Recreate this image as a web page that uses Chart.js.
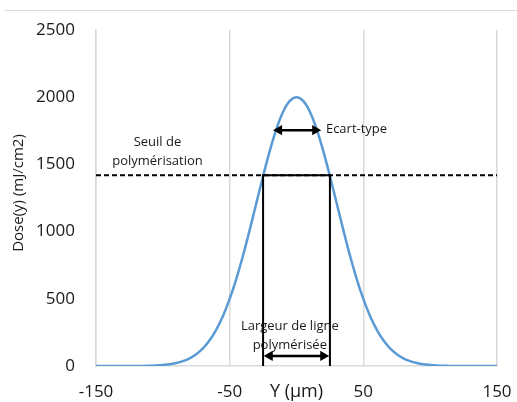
<!DOCTYPE html>
<html>
<head>
<meta charset="utf-8">
<script src="https://cdn.jsdelivr.net/npm/chart.js@4/dist/chart.umd.min.js"></script>
<style>
  html, body { margin: 0; padding: 0; background: #fff; }
  .wrap { position: relative; width: 517px; height: 402px; }
  .topline { position: absolute; left: 5px; right: 0; top: 10px; border-top: 1px solid #d9d9d9; }
</style>
</head>
<body>
<div class="wrap">
  <div class="topline"></div>
  <canvas id="chart" width="517" height="402"></canvas>
</div>
<script>
// ─── Data ──────────────────────────────────────────────────────────────────
const POSITIONS = [-150,-145,-140,-135,-130,-125,-120,-115,-110,-105,-100,-95,-90,-85,-80,-75,-70,-65,-60,-55,-50,-45,-40,-35,-30,-25,-20,-15,-10,-5,
  0,5,10,15,20,25,30,35,40,45,50,55,60,65,70,75,80,85,90,95,100,105,110,115,120,125,130,135,140,145,150];
const DOSE = [0,0,0,0,0,0,0,0,2,4,8,13,22,36,57,88,131,191,271,372,499,649,822,1013,1213,1413,1601,1765,1892,1972,
  2000,1972,1892,1765,1601,1413,1213,1013,822,649,499,372,271,191,131,88,57,36,22,13,8,4,2,0,0,0,0,0,0,0,0];

const THRESHOLD = 1420;
const LINE_EDGES = [-25, 25];
const SIGMA_ARROW = { y: 1755, from: -13, to: 14 };
const WIDTH_ARROW = { y: 75, from: -20, to: 20 };
const X_TICKS = [-150, -50, 50, 150];
const Y_TICKS = [0, 500, 1000, 1500, 2000, 2500];

const BLUE = '#5b9bd5';
const BLACK = '#000000';
const GRID = '#d9d9d9';
const TEXT = '#1a1a1a';
const FONT = "'Open Sans', sans-serif";

// ─── Text labels plugin ────────────────────────────────────────────────────
const LABELS = [
  { x: -104, y: 1665, lines: ['Seuil de', 'polymérisation'], align: 'center' },
  { x: 22, y: 1760, lines: ['Ecart-type'], align: 'left' },
  { x: -5, y: 293, lines: ['Largeur de ligne', 'polymérisée'], align: 'center' },
];

const labelPlugin = {
  id: 'labels',
  afterDatasetsDraw(chart) {
    const { ctx, scales: { x, y } } = chart;
    ctx.save();
    ctx.fillStyle = TEXT;
    ctx.font = `13px ${FONT}`;
    ctx.textBaseline = 'middle';
    LABELS.forEach(l => {
      ctx.textAlign = l.align;
      l.lines.forEach((t, i) => ctx.fillText(t, x.getPixelForValue(l.x), y.getPixelForValue(l.y) + i * 19));
    });
    // y axis title
    ctx.translate(19, 193);
    ctx.rotate(-Math.PI / 2);
    ctx.textAlign = 'center';
    ctx.font = `15px ${FONT}`;
    ctx.fillText('Dose(y) (mJ/cm2)', 0, 0);
    ctx.restore();
  }
};

// ─── Chart ─────────────────────────────────────────────────────────────────
const pts = POSITIONS.map((p, i) => ({ x: p, y: DOSE[i] }));
const arrow = a => [{ x: a.from, y: a.y }, { x: a.to, y: a.y }];

new Chart(document.getElementById('chart'), {
  type: 'scatter',
  data: {
    datasets: [
      { data: pts, showLine: true, borderColor: BLUE, borderWidth: 2.5, pointRadius: 0, tension: 0.3, order: 2 },
      { data: [{ x: -150, y: THRESHOLD }, { x: 150, y: THRESHOLD }], showLine: true, borderColor: BLACK, borderWidth: 2, borderDash: [5, 3], pointRadius: 0, order: 1 },
      { data: [{ x: LINE_EDGES[0], y: 0 }, { x: LINE_EDGES[0], y: THRESHOLD }, { x: LINE_EDGES[1], y: THRESHOLD }, { x: LINE_EDGES[1], y: 0 }],
        showLine: true, borderColor: BLACK, borderWidth: 2, pointRadius: 0, order: 1 },
      { data: arrow(SIGMA_ARROW), showLine: true, borderColor: BLACK, borderWidth: 2.5, backgroundColor: BLACK,
        pointStyle: 'triangle', pointRadius: 3.5, rotation: [-90, 90], order: 0 },
      { data: arrow(WIDTH_ARROW), showLine: true, borderColor: BLACK, borderWidth: 2.5, backgroundColor: BLACK,
        pointStyle: 'triangle', pointRadius: 3.5, rotation: [-90, 90], order: 0 },
    ]
  },
  options: {
    responsive: false, animation: false,
    layout: { padding: { top: 30, right: 20, left: 0, bottom: 0 } },
    plugins: { legend: { display: false }, tooltip: { enabled: false } },
    scales: {
      x: {
        type: 'linear', min: -150, max: 150,
        afterBuildTicks: s => { s.ticks = X_TICKS.map(v => ({ value: v })); },
        afterFit: s => { s.height = 36; s.paddingLeft = 0; s.paddingRight = 0; },
        grid: { color: GRID, lineWidth: 1.5, drawTicks: false },
        border: { color: GRID, width: 1.5 },
        ticks: { color: TEXT, font: { family: FONT, size: 17 }, padding: 16 },
        title: { display: true, text: 'Y (µm)', color: TEXT, font: { family: FONT, size: 18 }, padding: { top: 0, bottom: -1 } }
      },
      y: {
        min: 0, max: 2500,
        afterBuildTicks: s => { s.ticks = Y_TICKS.map(v => ({ value: v })); },
        afterFit: s => { s.width = 96; s.paddingTop = 0; s.paddingBottom = 0; },
        grid: { display: false, drawTicks: false },
        border: { color: GRID, width: 1.5 },
        ticks: { color: TEXT, font: { family: FONT, size: 17 }, padding: 21, callback: v => String(v) }
      }
    }
  },
  plugins: [labelPlugin]
});
</script>
</body>
</html>
